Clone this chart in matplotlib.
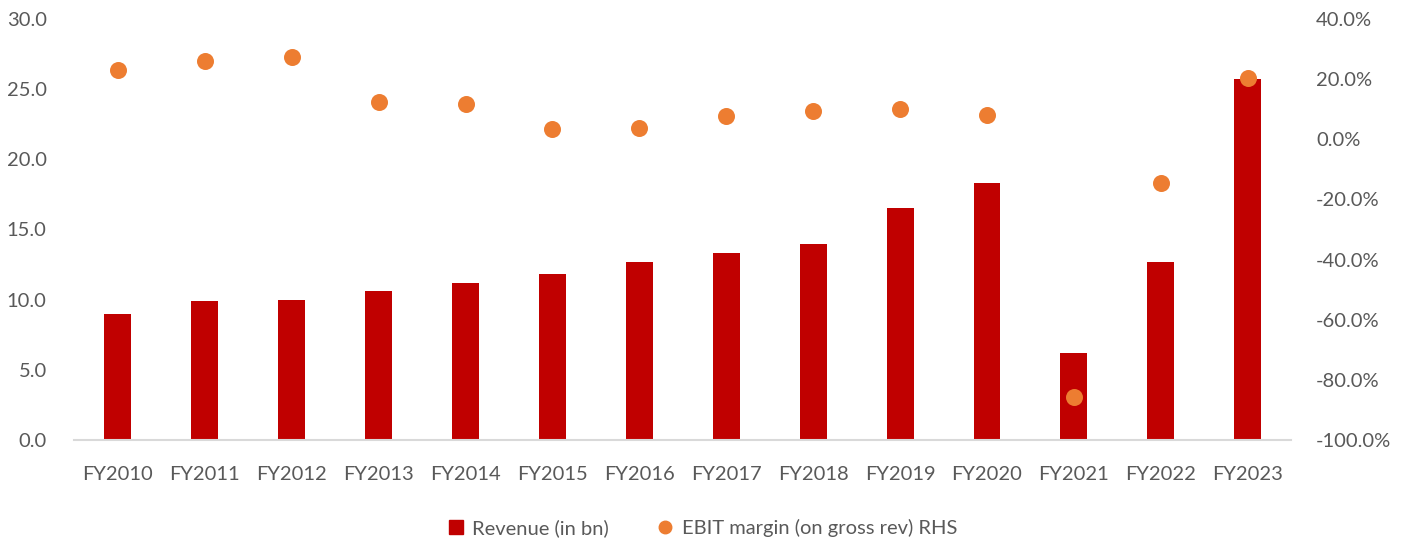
import matplotlib
matplotlib.use("Agg")
import matplotlib.pyplot as plt
import numpy as np
from matplotlib.lines import Line2D
from matplotlib.ticker import FuncFormatter

years = ["FY2010", "FY2011", "FY2012", "FY2013", "FY2014", "FY2015", "FY2016",
         "FY2017", "FY2018", "FY2019", "FY2020", "FY2021", "FY2022", "FY2023"]
revenue = [9.0, 9.9, 10.0, 10.6, 11.2, 11.8, 12.7, 13.3, 14.0, 16.5, 18.3, 6.2, 12.7, 25.7]
ebit_margin = [23.0, 26.0, 27.4, 12.4, 11.7, 3.4, 3.8, 7.7, 9.4, 10.1, 8.1, -85.7, -14.5, 20.4]

TEXT = "#595959"
BAR = "#C00000"
DOT = "#ED7D31"
plt.rcParams["font.family"] = ["Lato", "DejaVu Sans"]

fig = plt.figure(figsize=(14.05, 5.4), dpi=100)
ax = fig.add_axes([0.053, 0.185, 0.866, 0.78])
x = np.arange(len(years))

ax.bar(x, revenue, width=0.31, color=BAR, zorder=2)
ax.set_xlim(-0.5, len(years) - 0.5)
ax.set_ylim(0, 30)
ax.set_yticks(np.arange(0, 30.1, 5))
ax.yaxis.set_major_formatter(FuncFormatter(lambda v, _: f"{v:.1f}"))
ax.set_xticks(x)
ax.set_xticklabels(years)

ax2 = ax.twinx()
ax2.scatter(x, ebit_margin, s=150, color=DOT, zorder=3, linewidths=0)
ax2.set_ylim(-100, 40)
ax2.set_yticks(np.arange(-100, 40.1, 20))
ax2.yaxis.set_major_formatter(FuncFormatter(lambda v, _: f"{v:.1f}%"))

for a in (ax, ax2):
    for s in ("top", "right", "left", "bottom"):
        a.spines[s].set_visible(False)
    a.tick_params(length=0, labelsize=14.5, colors=TEXT)
ax.spines["bottom"].set_visible(True)
ax.spines["bottom"].set_color("#D9D9D9")
ax.spines["bottom"].set_linewidth(1.5)
ax.tick_params(axis="x", pad=19)
ax.tick_params(axis="y", pad=20)
ax2.tick_params(axis="y", pad=18)

handles = [
    Line2D([], [], marker="s", linestyle="none", markersize=10, color=BAR,
           label="Revenue (in bn)"),
    Line2D([], [], marker="o", linestyle="none", markersize=9, color=DOT,
           label="EBIT margin (on gross rev) RHS"),
]
leg = fig.legend(handles=handles, loc="lower center", bbox_to_anchor=(0.5, -0.028),
                 ncol=2, frameon=False, fontsize=14.5, handlelength=0.8,
                 columnspacing=2.4, handletextpad=0.4)
for t in leg.get_texts():
    t.set_color(TEXT)

fig.savefig("out.png", dpi=100)
